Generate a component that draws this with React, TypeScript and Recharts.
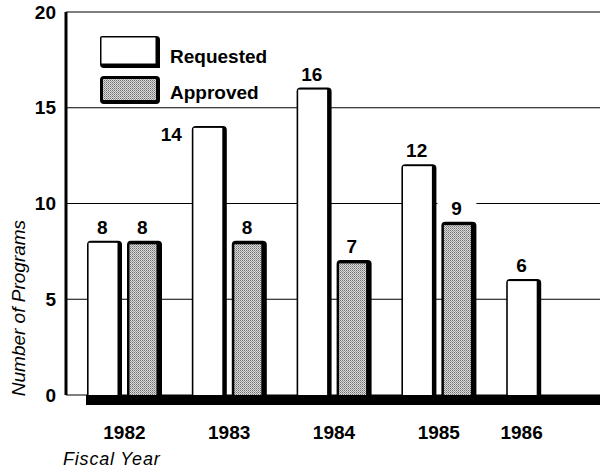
import React from 'react';
import { BarChart, Bar, XAxis, YAxis, CartesianGrid, Legend, LabelList } from 'recharts';

const years = ['1982', '1983', '1984', '1985', '1986'];
const requested = [8, 14, 16, 12, 6];
const approved: (number | null)[] = [8, 8, 7, 9, null];
const yTicks = [0, 5, 10, 15, 20];
const sideLabelYear = '1983';

const data = years.map((year, i) => ({ year, requested: requested[i], approved: approved[i] }));

const FONT = '"Liberation Sans", Arial, Helvetica, sans-serif';
const SH = 4.5;
const BAR = 35;
const GAP = 5;

function topRounded(x: number, y: number, w: number, h: number, r: number) {
  return `M${x},${y + h} L${x},${y + r} Q${x},${y} ${x + r},${y} L${x + w - r},${y} Q${x + w},${y} ${x + w},${y + r} L${x + w},${y + h} Z`;
}

const ReqShape = (p: any) => {
  const { x, y, width, height } = p;
  if (!height || height <= 0) return null;
  return (
    <g>
      <path d={topRounded(x, y - 1, width, height + 1, 4)} fill="#000" />
      <rect x={x + 1.6} y={y + 1} width={width - 1.6 - SH} height={height - 1} fill="#fff" />
    </g>
  );
};

const AppShape = (p: any) => {
  const { x, y, width, height } = p;
  if (!height || height <= 0) return null;
  return (
    <g>
      <path d={topRounded(x, y - 1, width, height + 1, 4)} fill="#000" />
      <rect x={x + 2.5} y={y + 2.5} width={width - 2.5 - SH - 1} height={height - 2.5} fill="url(#stipple)" />
    </g>
  );
};

const makeLabel = (key: 'requested' | 'approved') => (p: any) => {
  const { x, y, width, value, index } = p;
  if (value == null) return null;
  const d = data[index];
  if (key === 'requested' && d.year === sideLabelYear) {
    return (
      <text x={x - 10} y={y + 14} textAnchor="end" fontFamily={FONT} fontWeight="bold" fontSize={19} fill="#000">
        {value}
      </text>
    );
  }
  const cx = x + (width - SH) / 2;
  return (
    <g>
      <rect x={x - 4} y={y - 26} width={width + 4} height={20} fill="#fff" />
      <text x={cx} y={y - 8} textAnchor="middle" fontFamily={FONT} fontWeight="bold" fontSize={19} fill="#000">
        {value}
      </text>
    </g>
  );
};

const XTick = (p: any) => {
  const { x, y, payload, index } = p;
  const single = approved[index] == null;
  const cx = single ? x - (BAR + GAP) / 2 - 2 : x;
  return (
    <text x={cx} y={y + 44} textAnchor="middle" fontFamily={FONT} fontWeight="bold" fontSize={19} fill="#000">
      {payload.value}
    </text>
  );
};

const LegendContent = (props: any) => {
  const payload = props.payload || [];
  const req = payload.find((e: any) => e.dataKey === 'requested');
  const app = payload.find((e: any) => e.dataKey === 'approved');
  return (
    <svg width={200} height={80} style={{ display: 'block' }}>
      <path d="M4,6 Q4,4 6,4 L60,4 Q64,4 64,8 L64,36 L8,36 Q4,36 4,32 Z" fill="#000" />
      <rect x={5.5} y={5.5} width={54} height={26} fill="#fff" />
      <rect x={4} y={44} width={60} height={28} rx={4} fill="#000" />
      <rect x={7} y={47} width={53} height={21} fill="url(#stipple)" />
      <text x={74} y={31} fontFamily={FONT} fontWeight="bold" fontSize={19} fill="#000">{req ? req.value : 'Requested'}</text>
      <text x={74} y={67} fontFamily={FONT} fontWeight="bold" fontSize={19} fill="#000">{app ? app.value : 'Approved'}</text>
    </svg>
  );
};

export default function App() {
  return (
    <div style={{ position: 'absolute', left: 0, top: 0, width: 602, height: 469, background: '#fff' }}>
      <svg width={0} height={0} style={{ position: 'absolute' }}>
        <defs>
          <pattern id="stipple" width={2} height={2} patternUnits="userSpaceOnUse">
            <rect width={2} height={2} fill="#dadada" />
            <rect x={0} y={0} width={1} height={1} fill="#707070" />
            <rect x={1} y={1} width={1} height={1} fill="#9c9c9c" />
          </pattern>
        </defs>
      </svg>
      <BarChart
        width={602}
        height={469}
        data={data}
        margin={{ top: 12, right: 2, left: 0, bottom: 0 }}
        barSize={BAR}
        barGap={GAP}
      >
        <CartesianGrid vertical={false} stroke="#000" strokeWidth={1.2} />
        <XAxis
          dataKey="year"
          height={74}
          padding={{ left: 6, right: 4 }}
          tickLine={false}
          tickSize={0}
          tickMargin={0}
          tick={<XTick />}
          axisLine={{ stroke: '#000', strokeWidth: 10, strokeDasharray: '0 20 2000', transform: 'translate(0,5)' }}
          label={{
            content: (lp: any) => (
              <text x={lp.viewBox.x - 3} y={lp.viewBox.y + 70} fontFamily={FONT} fontStyle="italic" fontSize={18} letterSpacing={0.8} fill="#000">
                Fiscal Year
              </text>
            ),
          }}
        />
        <YAxis
          width={66}
          domain={[0, 20]}
          ticks={yTicks}
          interval={0}
          tickLine={false}
          tickSize={0}
          tickMargin={10}
          axisLine={{ stroke: '#000', strokeWidth: 3 }}
          tick={{ fontFamily: FONT, fontWeight: 'bold', fontSize: 19, fill: '#000' }}
          label={{
            content: (lp: any) => {
              const cx = lp.viewBox.x + 19;
              const cy = lp.viewBox.y + lp.viewBox.height * 0.773;
              return (
                <text x={cx} y={cy} transform={`rotate(-90, ${cx}, ${cy})`} textAnchor="middle" dominantBaseline="central" fontFamily={FONT} fontStyle="italic" fontSize={19} fill="#000">
                  Number of Programs
                </text>
              );
            },
          }}
        />
        <YAxis yAxisId="right" orientation="right" width={0} tick={false} tickLine={false} axisLine={{ stroke: '#000', strokeWidth: 1.5 }} domain={[0, 20]} />
        <Legend
          layout="vertical"
          align="center"
          verticalAlign="middle"
          wrapperStyle={{ position: 'absolute', left: 96, top: 32, width: 200, height: 80 }}
          content={<LegendContent />}
        />
        <Bar dataKey="requested" name="Requested" fill="#fff" shape={<ReqShape />} isAnimationActive={false}>
          <LabelList dataKey="requested" content={makeLabel('requested')} />
        </Bar>
        <Bar dataKey="approved" name="Approved" fill="#b0b0b0" shape={<AppShape />} isAnimationActive={false}>
          <LabelList dataKey="approved" content={makeLabel('approved')} />
        </Bar>
      </BarChart>
    </div>
  );
}
